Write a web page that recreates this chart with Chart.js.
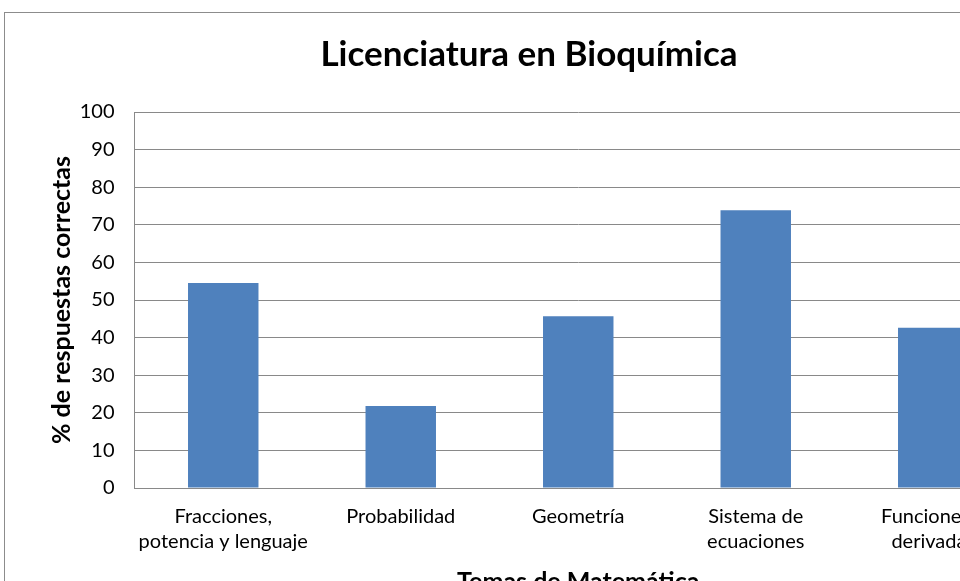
<!DOCTYPE html>
<html>
<head>
<meta charset="utf-8">
<script src="https://cdn.jsdelivr.net/npm/chart.js@4"></script>
<style>
  html, body { margin: 0; padding: 0; overflow: hidden; background: #fff; width: 960px; height: 581px; }
  #frame { position: absolute; left: 4px; top: 12px; border: 1px solid #8c8c8c; background: #fff; }
  canvas { display: block; }
</style>
</head>
<body>
<div id="frame"><canvas id="c" width="1045" height="600"></canvas></div>
<script>
const categories = [
  ['Fracciones,', 'potencia y lenguaje'],
  'Probabilidad',
  'Geometría',
  ['Sistema de', 'ecuaciones'],
  ['Funciones y', 'derivadas']
];
const values = [54.5, 21.8, 45.7, 73.9, 42.6];
const yTicks = [0, 10, 20, 30, 40, 50, 60, 70, 80, 90, 100];
const titleText = 'Licenciatura en Bioquímica';
const yTitle = '% de respuestas correctas';
const xTitle = 'Temas de Matemática';

const FONT = 'Lato, "Open Sans", sans-serif';
const gridColor = '#898989';

new Chart(document.getElementById('c'), {
  type: 'bar',
  data: {
    labels: categories,
    datasets: [{
      data: values,
      backgroundColor: '#4F81BD',
      borderWidth: 0,
      categoryPercentage: 1,
      barPercentage: 0.397
    }]
  },
  options: {
    responsive: false,
    animation: false,
    devicePixelRatio: 1,
    layout: { padding: { left: 31, right: 28, top: 0, bottom: 16 } },
    plugins: {
      legend: { display: false },
      tooltip: { enabled: false },
      title: {
        display: true,
        text: titleText,
        color: '#000',
        font: { family: FONT, size: 35, weight: 'bold', lineHeight: 1.2 },
        padding: { top: 21, bottom: 36 }
      }
    },
    scales: {
      x: {
        afterFit: s => { s.height = 109; },
        grid: { display: false, drawTicks: false },
        border: { display: true, color: gridColor, width: 1 },
        ticks: {
          color: '#000',
          padding: 16,
          maxRotation: 0,
          autoSkip: false,
          font: { family: FONT, size: 20, lineHeight: 1.25 }
        },
        title: {
          display: true,
          text: xTitle,
          color: '#000',
          font: { family: FONT, size: 25, weight: 'bold', lineHeight: 1.2 },
          padding: { top: 0, bottom: 0 }
        }
      },
      y: {
        min: 0,
        max: 100,
        afterFit: s => { s.width = 98.5; },
        afterBuildTicks: s => { s.ticks = yTicks.map(v => ({ value: v })); },
        grid: { color: gridColor, lineWidth: 1, drawTicks: false },
        border: { display: true, color: gridColor, width: 1 },
        ticks: {
          color: '#000',
          padding: 20,
          font: { family: FONT, size: 20 }
        },
        title: {
          display: true,
          text: yTitle,
          color: '#000',
          font: { family: FONT, size: 25, weight: 'bold', lineHeight: 1.2 },
          padding: { top: 11, bottom: 0 }
        }
      }
    }
  }
});
</script>
</body>
</html>
